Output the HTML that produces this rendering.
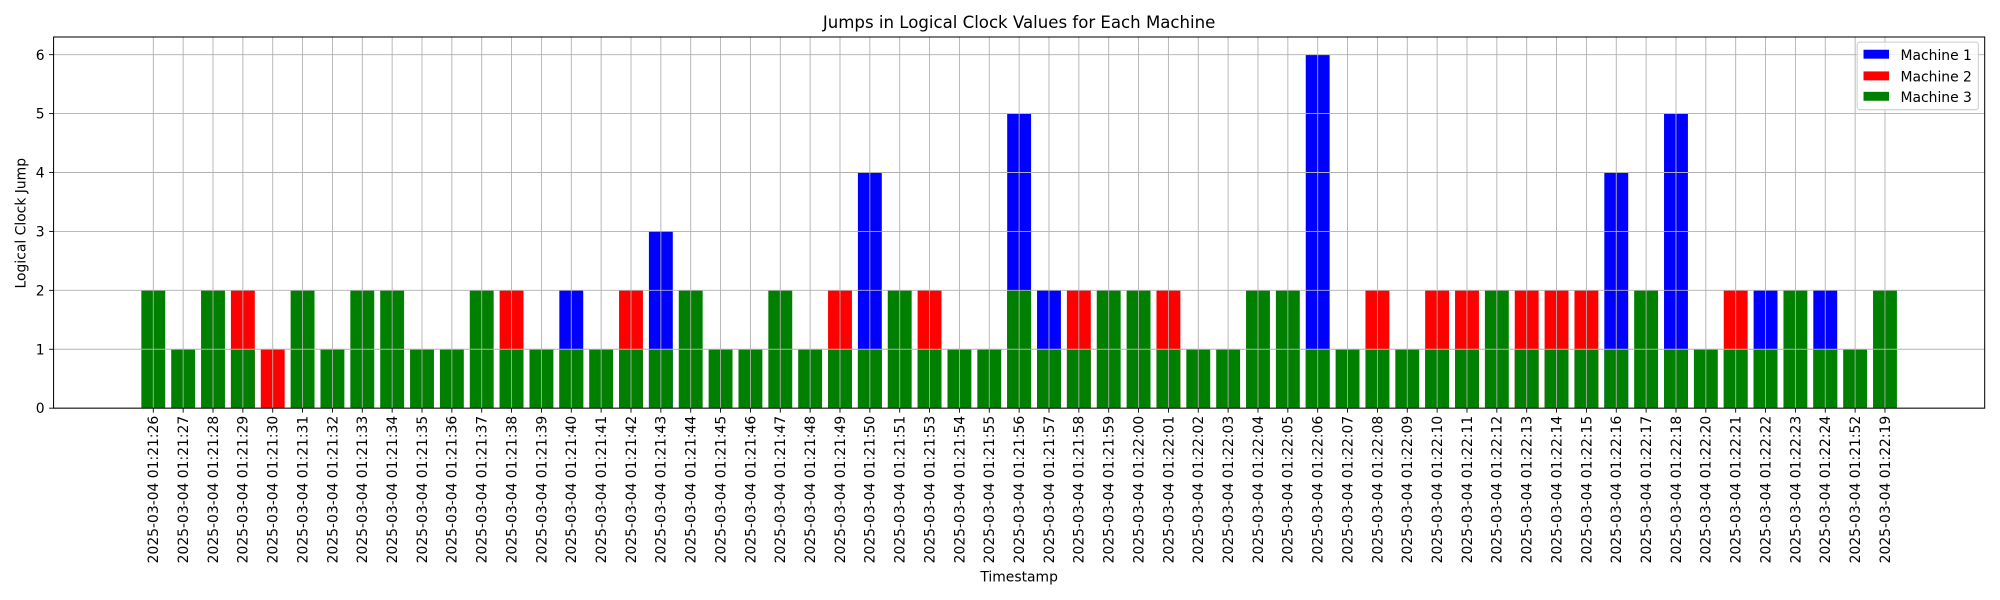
<!DOCTYPE html>
<html><head><meta charset="utf-8"><style>
body{margin:0;background:#fff;}
svg{display:block;font-family:"DejaVu Sans","Liberation Sans",sans-serif;}
</style></head><body>
<svg id="chart" width="2000" height="600" viewBox="0 0 1568 470.4" preserveAspectRatio="none" xmlns="http://www.w3.org/2000/svg">
<rect width="1568" height="470.4" fill="#fff"/>
<text x="799" y="22" font-size="13" text-anchor="middle">Jumps in Logical Clock Values for Each Machine</text>
<g id="bars"></g><g id="grid"></g><g id="ticks"></g>
<rect x="42" y="29" width="1514" height="291" fill="none" stroke="#000" stroke-width="0.8"/>
<text x="799" y="456" font-size="10.9" text-anchor="middle">Timestamp</text>
<text transform="translate(20,175) rotate(-90)" font-size="10.9" text-anchor="middle">Logical Clock Jump</text>
<g>
<rect x="1456" y="33" width="95" height="53" fill="#fff" fill-opacity="0.8" stroke="#ccc" stroke-width="0.8" rx="2"/>
<rect x="1461" y="39" width="20" height="7" fill="#0000ff"/>
<text x="1490" y="47" font-size="10.9">Machine 1</text>
<rect x="1461" y="56" width="20" height="7" fill="#ff0000"/>
<text x="1490" y="64" font-size="10.9">Machine 2</text>
<rect x="1461" y="72" width="20" height="7" fill="#008000"/>
<text x="1490" y="80" font-size="10.9">Machine 3</text>
</g>
</svg>
<script>
const categories=["01:21:26","01:21:27","01:21:28","01:21:29","01:21:30","01:21:31","01:21:32","01:21:33","01:21:34","01:21:35","01:21:36","01:21:37","01:21:38","01:21:39","01:21:40","01:21:41","01:21:42","01:21:43","01:21:44","01:21:45","01:21:46","01:21:47","01:21:48","01:21:49","01:21:50","01:21:51","01:21:53","01:21:54","01:21:55","01:21:56","01:21:57","01:21:58","01:21:59","01:22:00","01:22:01","01:22:02","01:22:03","01:22:04","01:22:05","01:22:06","01:22:07","01:22:08","01:22:09","01:22:10","01:22:11","01:22:12","01:22:13","01:22:14","01:22:15","01:22:16","01:22:17","01:22:18","01:22:20","01:22:21","01:22:22","01:22:23","01:22:24","01:21:52","01:22:19"];
const machine1=[0,0,0,0,0,0,0,0,0,0,0,0,0,0,2,0,0,3,0,0,0,0,0,0,4,0,0,0,0,5,2,0,0,0,0,0,0,0,0,6,0,0,0,0,0,0,0,0,0,4,0,5,0,0,2,0,2,0,0];
const machine2=[0,0,0,2,1,0,0,0,0,0,0,0,2,0,0,0,2,0,0,0,0,0,0,2,0,0,2,0,0,0,0,2,0,0,2,0,0,0,0,0,0,2,0,2,2,0,2,2,2,0,0,0,0,2,0,0,0,0,0];
const machine3=[2,1,2,1,0,2,1,2,2,1,1,2,1,1,1,1,1,1,2,1,1,2,1,1,1,2,1,1,1,2,1,1,2,2,1,1,1,2,2,1,1,1,1,1,1,2,1,1,1,1,2,1,1,1,1,2,1,1,2];
const yTicks=[0,1,2,3,4,5,6];
const datePrefix="2025-03-04 ";
const NS="http://www.w3.org/2000/svg";
const L=42,R=1556,T=29,B=320;
const n=categories.length;
const xmin=-0.4-0.05*(n-1+0.8),xmax=n-1+0.4+0.05*(n-1+0.8);
const ymax=6.3;
const xs=i=>L+(i-xmin)/(xmax-xmin)*(R-L);
const ys=v=>B-v/ymax*(B-T);
const bw=0.8*(R-L)/(xmax-xmin);
function mk(tag,attrs,parent){const e=document.createElementNS(NS,tag);for(const k in attrs)e.setAttribute(k,attrs[k]);parent.appendChild(e);return e;}
const gb=document.getElementById('bars'),gg=document.getElementById('grid'),gt=document.getElementById('ticks');
[[machine1,'#0000ff','machine-1'],[machine2,'#ff0000','machine-2'],[machine3,'#008000','machine-3']].forEach(([vals,col,nm])=>{
 vals.forEach((v,i)=>{if(!v)return;
  const r=mk('rect',{x:xs(i)-bw/2,y:ys(v),width:bw,height:ys(0)-ys(v),fill:col},gb);
  
  
 });
});
categories.forEach((c,i)=>{
 const x=xs(i);
 const l=mk('line',{x1:x,x2:x,y1:T,y2:B,stroke:'#b0b0b0','stroke-width':0.7},gg);
 
 
 mk('line',{x1:x,x2:x,y1:B,y2:B+3.5,stroke:'#000','stroke-width':0.7},gt);
 const t=mk('text',{transform:`translate(${x+3.8},${B+6}) rotate(-90)`,'font-size':10.9,'text-anchor':'end'},gt);
 t.textContent=datePrefix+c;
 
 
});
yTicks.forEach(v=>{
 const y=ys(v);
 const l=mk('line',{x1:L,x2:R,y1:y,y2:y,stroke:'#b0b0b0','stroke-width':0.7},gg);
 
 
 mk('line',{x1:L-3.5,x2:L,y1:y,y2:y,stroke:'#000','stroke-width':0.7},gt);
 const t=mk('text',{x:L-7,y:y+4,'font-size':10.9,'text-anchor':'end'},gt);
 t.textContent=v;
 
 
});
</script>
</body></html>
